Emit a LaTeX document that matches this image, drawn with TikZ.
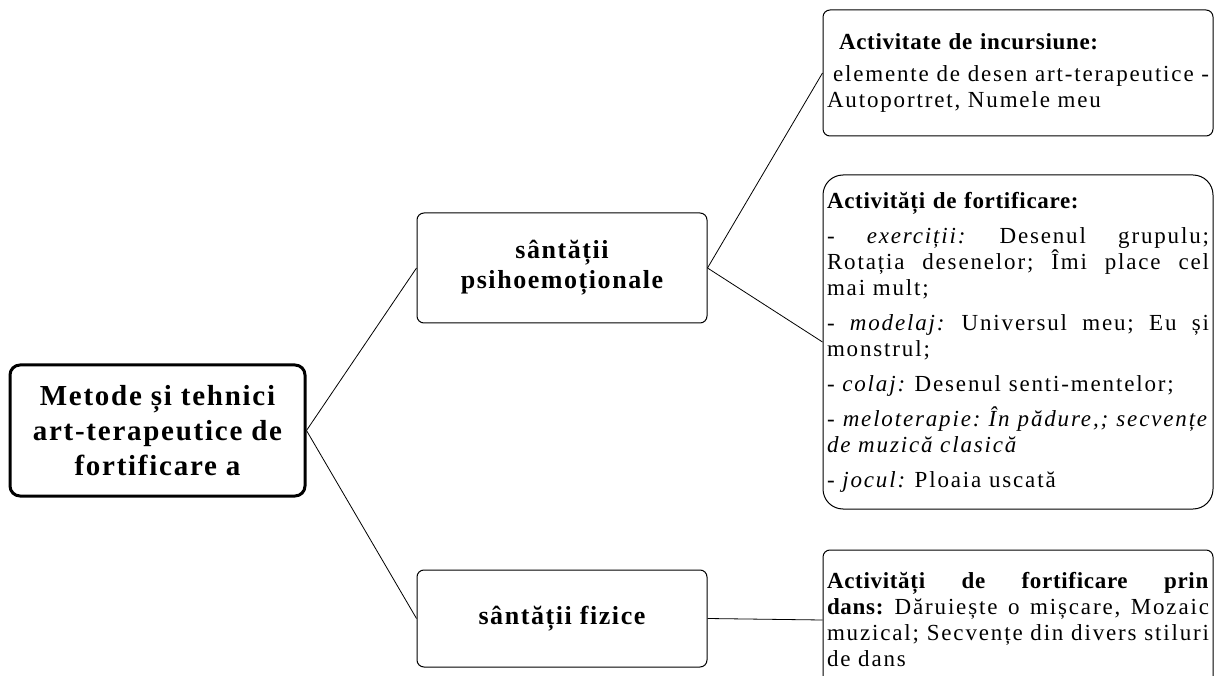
\documentclass[tikz,border=0pt]{standalone}
\usepackage{fontspec}
\setmainfont{Liberation Serif}[LetterSpace=8,BoldFeatures={LetterSpace=3}]
\newfontfamily\headfont{Liberation Serif}[LetterSpace=6]
\newcommand{\spread}[1]{\makebox[\hsize][s]{\spaceskip=0.3em plus 1fil\relax #1}}
\frenchspacing

\begin{document}
\begin{tikzpicture}[x=1pt,y=-1pt,
		box/.style={draw,line width=1pt,rounded corners=7pt,inner sep=0pt},
		head/.style={box,align=center,font=\headfont\bfseries\fontsize{26}{30}\selectfont},
		info/.style={box,align=left,text width=382pt,font=\fontsize{23}{26}\selectfont},
		link/.style={line width=0.8pt}]
		%%%%% START %%%%%
		\useasboundingbox (0,0) rectangle (1216,676);
		
		\node[box,line width=3pt,rounded corners=10pt,minimum width=295pt,minimum height=131pt,
			align=center,font=\headfont\bfseries\fontsize{29}{35}\selectfont] (metode) at (157.5,430.5)
			{Metode și tehnici\\art-terapeutice de\\fortificare a};
		
		\node[head,minimum width=290pt,minimum height=110pt] (psiho) at (562,268) {sântății\\psihoemoționale};
		\node[head,minimum width=290pt,minimum height=97pt] (fizice) at (562,618.5) {sântății fizice};
		
		\node[info,minimum width=390pt,minimum height=126pt] (incursiune) at (1018,73)
			{\hspace*{12pt}\textbf{Activitate de incursiune:}\\[6pt]
			\hspace*{6pt}\makebox[376pt][s]{\spaceskip=0.3em plus 1fil\relax elemente de desen art-terapeutice -}\\
			Autoportret, Numele meu};
		
		\node[info,rounded corners=20pt,minimum width=390pt,minimum height=334pt] (fortificare) at (1018,342)
			{\textbf{Activități de fortificare:}\\[9pt]
			\spread{- \textit{exerciții:} Desenul grupulu;}\\
			\spread{Rotația desenelor; Îmi place cel}\\
			mai mult;\\[9pt]
			\spread{- \textit{modelaj:} Universul meu; Eu și}\\
			monstrul;\\[9pt]
			- \textit{colaj:} Desenul senti-mentelor;\\[9pt]
			\spread{- \textit{meloterapie: În pădure,; secvențe}}\\
			\textit{de muzică clasică}\\[9pt]
			- \textit{jocul:} Ploaia uscată};
		
		\node[info,minimum width=390pt,minimum height=140pt] (dans) at (1018,620)
			{\spread{\textbf{Activități de fortificare prin}}\\
			\spread{\textbf{dans:} Dăruiește o mișcare, Mozaic}\\
			\spread{muzical; Secvențe din divers stiluri}\\
			de dans};
		
		\draw[link] (metode.east) -- (psiho.west);
		\draw[link] (metode.east) -- (fizice.west);
		\draw[link] (psiho.east) -- (incursiune.west);
		\draw[link] (psiho.east) -- (fortificare.west);
		\draw[link] (fizice.east) -- (dans.west);
		%%%%% END %%%%%
	\end{tikzpicture}
\end{document}
